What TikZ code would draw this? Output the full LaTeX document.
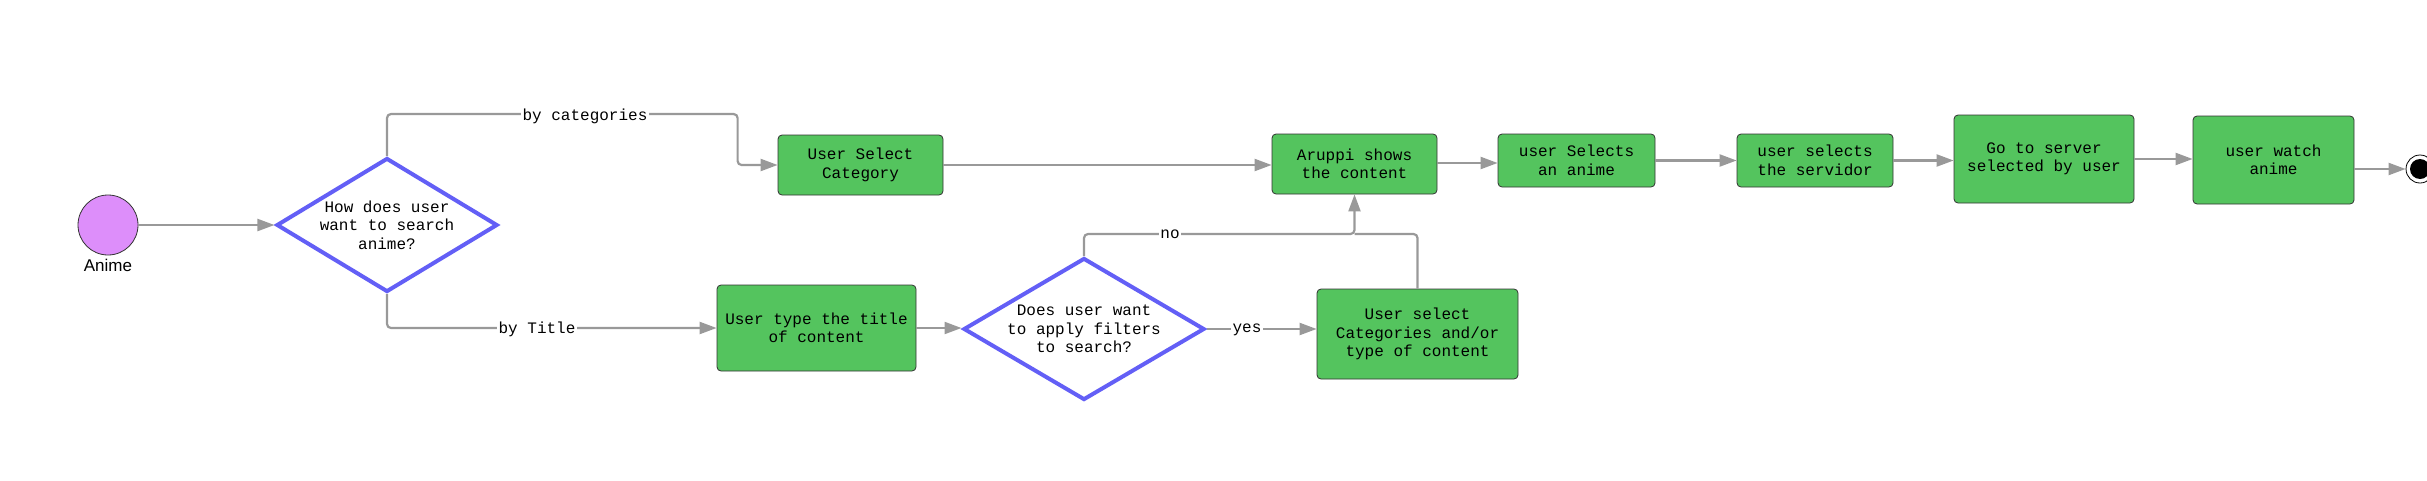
\documentclass[tikz,border=0pt]{standalone}
\usepackage{fontspec}
\setmainfont{Liberation Sans}
\newfontfamily\monof{Liberation Mono}
\usetikzlibrary{shapes.geometric,arrows.meta}
\definecolor{boxgreen}{RGB}{84,196,94}
\definecolor{dblue}{RGB}{99,95,246}
\definecolor{lgray}{RGB}{153,153,153}
\definecolor{startpink}{RGB}{221,142,250}
\begin{document}
\begin{tikzpicture}[x=1pt,y=-1pt,
  mono/.style={font=\monof\fontsize{16}{18.5}\selectfont},
  act/.style={mono, draw=black!80, fill=boxgreen, rounded corners=4pt, line width=0.8pt, align=center, inner sep=0pt},
  dec/.style={draw=dblue, line width=4pt, diamond, inner sep=0pt, fill=white},
  dtxt/.style={mono, align=center, inner sep=0pt},
  flow/.style={draw=lgray, line width=2.2pt, rounded corners=4pt, -{Triangle[length=17pt,width=12pt]}},
  plain/.style={draw=lgray, line width=2.2pt, rounded corners=4pt},
  elab/.style={mono, fill=white, inner sep=1.5pt}
]
\useasboundingbox (0,0) rectangle (2427,480);
% start
\node[circle, draw=black!80, line width=0.8pt, fill=startpink, minimum size=60pt, inner sep=0pt] (start) at (108,225) {};
\node[font=\fontsize{17}{19}\selectfont] (startlab) at (108,265) {Anime};
% decisions
\node[dec, minimum width=221pt, minimum height=134pt] (d1) at (387,225) {};
\node[dtxt] (d1t) at (d1) {How does user\\want to search\\anime?};
\node[dec, minimum width=241pt, minimum height=142pt] (d2) at (1084,329) {};
\node[dtxt] (d2t) at (d2) {Does user want\\to apply filters\\to search?};
% activities
\node[act, minimum width=165pt, minimum height=60pt] (cat) at (860.5,165) {User Select\\Category};
\node[act, minimum width=165pt, minimum height=60pt] (aru) at (1354.5,164) {Aruppi shows\\the content};
\node[act, minimum width=199pt, minimum height=86pt] (tit) at (816.5,328) {User type the title\\of content};
\node[act, minimum width=201pt, minimum height=90pt] (fil) at (1417.5,334) {User select\\Categories and/or\\type of content};
\node[act, minimum width=157pt, minimum height=53pt] (sela) at (1576.5,160.5) {user Selects\\an anime};
\node[act, minimum width=156pt, minimum height=53pt] (serv) at (1815,160.5) {user selects\\the servidor};
\node[act, minimum width=180pt, minimum height=88pt] (goto) at (2044,159) {Go to server\\selected by user};
\node[act, minimum width=161pt, minimum height=88pt] (watch) at (2273.5,160) {user watch\\anime};
% end
\node[circle, draw=black, line width=0.8pt, fill=white, minimum size=28pt, inner sep=0pt] (end) at (2420,169) {};
\node[circle, fill=black, minimum size=20pt, inner sep=0pt] (endin) at (end) {};
\coordinate (j) at (1354.5,234);
% connectors
\draw[flow] (start) -- (d1);
\draw[flow] (d1.north) -- ++(0,-42) -| ([xshift=-40pt]cat.west) -- (cat.west);
\draw[flow] (d1.south) |- (tit.west);
\draw[flow] (cat.east) -- (cat.east -| aru.west);
\draw[flow] (tit.east) -- (tit.east -| d2.west);
\draw[flow] (d2.east) -- (d2.east -| fil.west);
\draw[plain] (fil.north) |- (j);
\draw[flow] (d2.north) |- (j) -- (aru.south);
\draw[flow] (aru.east |- 0,163) -- (sela.west |- 0,163);
\draw[flow] (sela.east) -- (sela.east -| serv.west);
\draw[flow] (serv.east) -- (serv.east -| goto.west);
\draw[flow] (goto.east) -- (goto.east -| watch.west);
\draw[flow] (watch.east |- end) -- (end);
% edge labels
\node[elab] (lcat) at (585,116) {by categories};
\node[elab] (ltit) at (537,329) {by Title};
\node[elab] (lno) at (1170,234) {no};
\node[elab] (lyes) at (1247,330) {yes};
\end{tikzpicture}
\end{document}
